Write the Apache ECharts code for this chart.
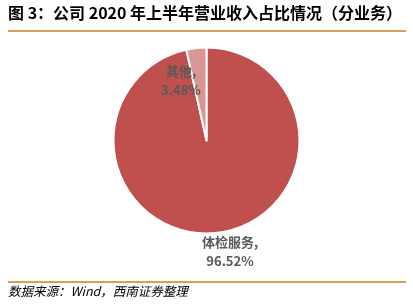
<!DOCTYPE html>
<html><head><meta charset="utf-8">
<script src="https://cdn.jsdelivr.net/npm/echarts@6/dist/echarts.min.js"></script>
<style>html,body{margin:0;padding:0;background:#fff}#c{width:413px;height:306px}</style>
</head><body><div id="c"></div>
<script>
const categories = ['体检服务', '其他'];
const values = [96.52, 3.48];
const titleText = '图 3：公司 2020 年上半年营业收入占比情况（分业务）';
const sourceText = '数据来源：Wind，西南证券整理';
const colors = ['#C0504D', '#D99694'];
const labelPos = [[230, 252], [181, 81]];

const chart = echarts.init(document.getElementById('c'));
chart.setOption({
  animation: false,
  graphic: [
    {type: 'text', left: 8, top: 5, style: {text: titleText, font: 'bold 16px "Noto Sans CJK SC", sans-serif', fill: '#000'}},
    {type: 'line', shape: {x1: 8, y1: 31, x2: 406, y2: 31}, style: {stroke: '#D4A35A', lineWidth: 2}},
    {type: 'line', shape: {x1: 8, y1: 282, x2: 406, y2: 282}, style: {stroke: '#D4A35A', lineWidth: 2}},
    {type: 'text', left: 8, top: 285, style: {text: sourceText, font: 'italic 12.5px "Noto Sans CJK SC", sans-serif', fill: '#000'}}
  ],
  series: [{
    type: 'pie',
    center: [206.5, 140.5],
    radius: [0, 93],
    startAngle: 90,
    clockwise: true,
    itemStyle: {borderColor: '#fff', borderWidth: 2},
    label: {
      show: true,
      formatter: p => p.name + ',\n' + p.value.toFixed(2) + '%',
      color: '#595959',
      fontWeight: 'bold',
      fontSize: 13,
      lineHeight: 19,
      align: 'center',
      fontFamily: '"Noto Sans CJK SC", sans-serif'
    },
    labelLine: {show: false},
    labelLayout: p => ({x: labelPos[p.dataIndex][0], y: labelPos[p.dataIndex][1], align: 'center', verticalAlign: 'middle'}),
    data: categories.map((c, i) => ({name: c, value: values[i], itemStyle: {color: colors[i]}}))
  }]
});
</script></body></html>
